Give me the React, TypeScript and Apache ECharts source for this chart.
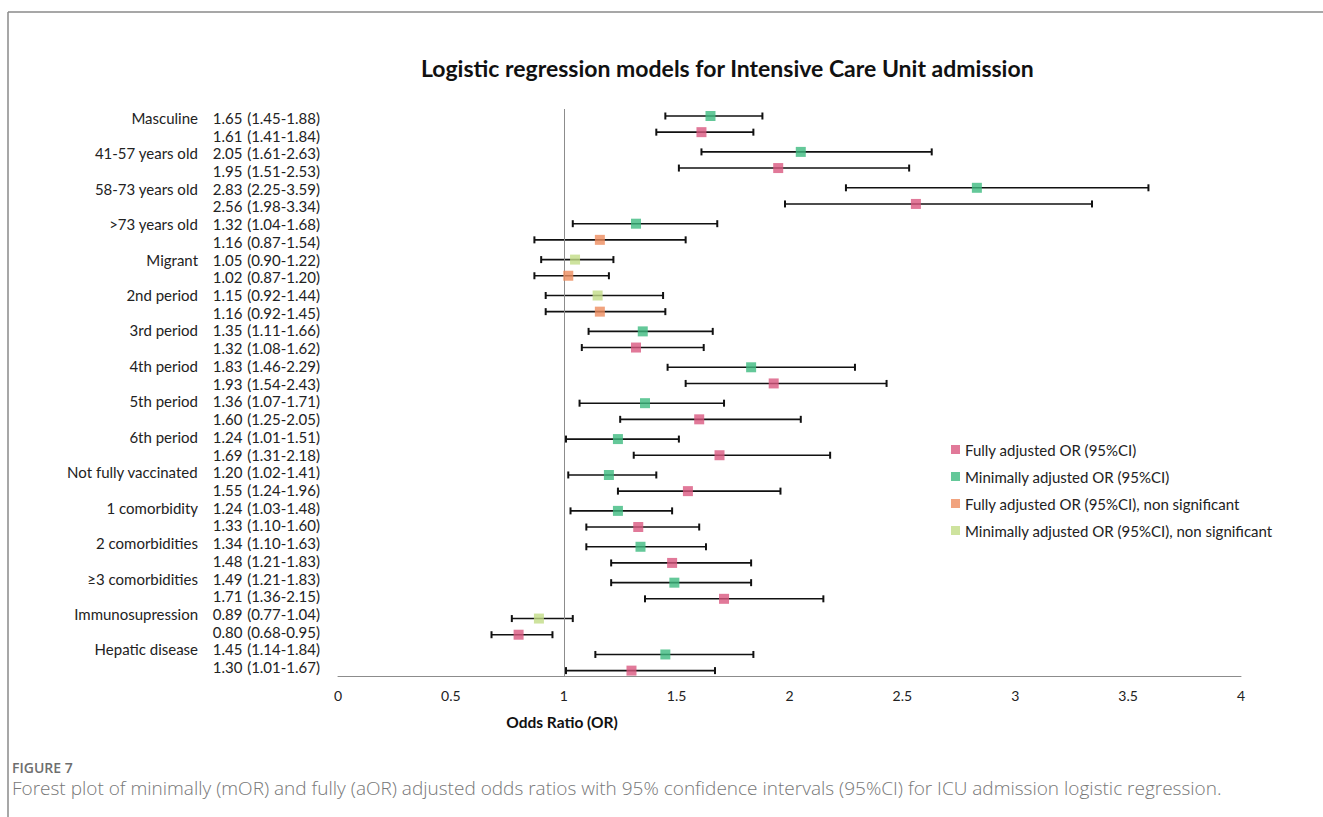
import React, { useEffect, useRef } from "react";
import * as echarts from "echarts";

const variables = [
  "Masculine",
  "41-57 years old",
  "58-73 years old",
  ">73 years old",
  "Migrant",
  "2nd period",
  "3rd period",
  "4th period",
  "5th period",
  "6th period",
  "Not fully vaccinated",
  "1 comorbidity",
  "2 comorbidities",
  "≥3 comorbidities",
  "Immunosupression",
  "Hepatic disease",
];

// Minimally adjusted OR (first row of each pair)
const mOR = [1.65, 2.05, 2.83, 1.32, 1.05, 1.15, 1.35, 1.83, 1.36, 1.24, 1.2, 1.24, 1.34, 1.49, 0.89, 1.45];
const mLo = [1.45, 1.61, 2.25, 1.04, 0.9, 0.92, 1.11, 1.46, 1.07, 1.01, 1.02, 1.03, 1.1, 1.21, 0.77, 1.14];
const mHi = [1.88, 2.63, 3.59, 1.68, 1.22, 1.44, 1.66, 2.29, 1.71, 1.51, 1.41, 1.48, 1.63, 1.83, 1.04, 1.84];
const mSig = [true, true, true, true, false, false, true, true, true, true, true, true, true, true, false, true];

// Fully adjusted OR (second row of each pair)
const fOR = [1.61, 1.95, 2.56, 1.16, 1.02, 1.16, 1.32, 1.93, 1.6, 1.69, 1.55, 1.33, 1.48, 1.71, 0.8, 1.3];
const fLo = [1.41, 1.51, 1.98, 0.87, 0.87, 0.92, 1.08, 1.54, 1.25, 1.31, 1.24, 1.1, 1.21, 1.36, 0.68, 1.01];
const fHi = [1.84, 2.53, 3.34, 1.54, 1.2, 1.45, 1.62, 2.43, 2.05, 2.18, 1.96, 1.6, 1.83, 2.15, 0.95, 1.67];
const fSig = [true, true, true, false, false, false, true, true, true, true, true, true, true, true, true, true];

const xTicks = [0, 0.5, 1, 1.5, 2, 2.5, 3, 3.5, 4];

const legendNames = [
  "Fully adjusted OR (95%CI)",
  "Minimally adjusted OR (95%CI)",
  "Fully adjusted OR (95%CI), non significant",
  "Minimally adjusted OR (95%CI), non significant",
];
const colors = ["#d9577f", "#3dba80", "#ee8c5e", "#c2dc86"];

const FONT = "Lato, 'Noto Sans', sans-serif";

export default function App() {
  const ref = useRef<HTMLDivElement>(null);

  useEffect(() => {
    if (!ref.current) return;
    const chart = echarts.init(ref.current, undefined, { renderer: "svg" });

    type Row = { name: string; or: number; lo: number; hi: number; y: number; kind: number };
    const rows: Row[] = [];
    variables.forEach((v, k) => {
      rows.push({ name: v, or: mOR[k], lo: mLo[k], hi: mHi[k], y: 2 * k, kind: mSig[k] ? 1 : 3 });
      rows.push({ name: "", or: fOR[k], lo: fLo[k], hi: fHi[k], y: 2 * k + 0.9, kind: fSig[k] ? 0 : 2 });
    });

    const catData = rows.map((_, i) => String(i));

    const scatterSeries = legendNames.map((nm, s) => ({
      name: nm,
      type: "scatter",
      yAxisIndex: 1,
      symbol: "rect",
      symbolSize: 10,
      itemStyle: { color: colors[s] },
      z: 5,
      data: rows.filter((r) => r.kind === s).map((r) => [r.or, r.y]),
      ...(s === 0
        ? {
            markLine: {
              silent: true,
              symbol: ["none", "none"],
              label: { show: false },
              lineStyle: { color: "#8c8c8c", width: 1, type: "solid" },
              data: [{ xAxis: 1 }],
            },
          }
        : {}),
    }));

    const option: any = {
      animation: false,
      backgroundColor: "#ffffff",
      textStyle: { fontFamily: FONT },
      title: {
        text: "Logistic regression models for Intensive Care Unit admission",
        left: 416,
        top: 51,
        textStyle: { fontFamily: FONT, fontSize: 23, fontWeight: "bold", color: "#111" },
      },
      legend: {
        orient: "vertical",
        left: 946,
        top: 436,
        itemWidth: 9,
        itemHeight: 9,
        itemGap: 10,
        icon: "rect",
        data: legendNames,
        textStyle: { fontFamily: FONT, fontSize: 15, color: "#222", lineHeight: 17 },
      },
      grid: { left: 338, right: 82, top: 109, bottom: 141, containLabel: false },
      xAxis: {
        type: "value",
        min: 0,
        max: 4,
        interval: 0.5,
        axisLine: { show: true, onZero: false, lineStyle: { color: "#8c8c8c", width: 1 } },
        axisTick: { show: false },
        splitLine: { show: false },
        axisLabel: {
          margin: 12,
          fontFamily: FONT,
          fontSize: 14,
          color: "#222",
          formatter: (v: number) => (xTicks.includes(v) ? String(v) : ""),
        },
      },
      yAxis: [
        {
          type: "category",
          inverse: true,
          data: catData,
          position: "left",
          axisLine: { show: false },
          axisTick: { show: false },
          splitLine: { show: false },
          axisLabel: {
            margin: 18,
            interval: 0,
            align: "right",
            fontFamily: FONT,
            fontSize: 15,
            color: "#222",
            formatter: (val: string) => {
              const r = rows[Number(val)];
              const ci = `(${r.lo.toFixed(2)}-${r.hi.toFixed(2)})`;
              return `{n|${r.name || " "}}{v|${r.or.toFixed(2)}}{c|${ci}}`;
            },
            rich: {
              n: { fontFamily: FONT, fontSize: 15, color: "#222", align: "right" },
              v: { fontFamily: FONT, fontSize: 15, color: "#222", width: 33, align: "left", padding: [0, 0, 0, 13] },
              c: { fontFamily: FONT, fontSize: 15, color: "#222", width: 76, align: "right" },
            },
          },
        },
        {
          type: "value",
          inverse: true,
          min: -0.39,
          max: 31.2,
          position: "right",
          show: false,
          splitLine: { show: false },
        },
      ],
      graphic: [
        {
          type: "line",
          shape: { x1: 8, y1: 12, x2: 1323, y2: 12 },
          style: { stroke: "#8a8a8a", lineWidth: 1.5 },
        },
        {
          type: "line",
          shape: { x1: 8, y1: 12, x2: 8, y2: 817 },
          style: { stroke: "#8a8a8a", lineWidth: 1.5 },
        },
        {
          type: "text",
          x: 562,
          y: 722,
          style: {
            text: "Odds Ratio (OR)",
            fontFamily: FONT,
            fontSize: 15.5,
            fontWeight: "bold",
            fill: "#111",
            align: "center",
            verticalAlign: "middle",
          },
        },
        {
          type: "text",
          x: 12,
          y: 767,
          style: {
            text: "FIGURE 7",
            fontFamily: "'Open Sans', sans-serif",
            fontSize: 14,
            fontWeight: 600,
            fill: "#6e6e6e",
            verticalAlign: "middle",
          },
        },
        {
          type: "text",
          x: 12,
          y: 788,
          style: {
            text:
              "Forest plot of minimally (mOR) and fully (aOR) adjusted odds ratios with 95% confidence intervals (95%CI) for ICU admission logistic regression.",
            fontFamily: "'Open Sans', sans-serif",
            fontSize: 19,
            fontWeight: 300,
            fill: "#777",
            verticalAlign: "middle",
          },
        },
      ],
      series: [
        {
          type: "custom",
          name: "CI",
          yAxisIndex: 1,
          silent: true,
          z: 3,
          encode: { x: [0, 1], y: 2 },
          data: rows.map((r) => [r.lo, r.hi, r.y]),
          renderItem: (params: any, api: any) => {
            const a = api.coord([api.value(0), api.value(2)]);
            const b = api.coord([api.value(1), api.value(2)]);
            const h = 3.5;
            const style = { stroke: "#111", lineWidth: 1.6 };
            return {
              type: "group",
              children: [
                { type: "line", shape: { x1: a[0], y1: a[1], x2: b[0], y2: b[1] }, style },
                { type: "line", shape: { x1: a[0], y1: a[1] - h, x2: a[0], y2: a[1] + h }, style: { stroke: "#111", lineWidth: 2 } },
                { type: "line", shape: { x1: b[0], y1: b[1] - h, x2: b[0], y2: b[1] + h }, style: { stroke: "#111", lineWidth: 2 } },
              ],
            };
          },
        },
        ...scatterSeries,
      ],
    };

    chart.setOption(option);
    return () => chart.dispose();
  }, []);

  return (
    <div
      ref={ref}
      style={{ position: "fixed", left: 0, top: 0, width: 1323, height: 817, background: "#fff" }}
    />
  );
}
